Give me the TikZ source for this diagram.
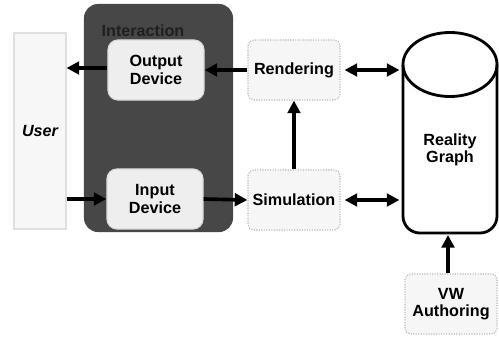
\documentclass[tikz,border=0pt]{standalone}
\usepackage{fontspec}
\setmainfont{Liberation Sans}
\usepackage{tikz}
\usetikzlibrary{positioning, arrows.meta, calc}
\tikzset{every picture/.append style={thick}}

\begin{document}
\begin{tikzpicture}[x=0.025cm, y=-0.025cm,
    font=\fontsize{11.5}{12.5}\selectfont\bfseries,
    panel/.style={rectangle, rounded corners=4pt, fill=gray!7, draw=gray!55, densely dotted,
      minimum width=2.3cm, minimum height=1.5cm, align=center},
    device/.style={rectangle, rounded corners=7pt, fill=gray!13, draw=gray!30,
      minimum width=2.4cm, minimum height=1.5cm, align=center},
    flow/.style={line width=2.6pt, -{Triangle[length=9pt,width=9pt]}},
    both/.style={line width=2.6pt, {Triangle[length=9pt,width=9pt]}-{Triangle[length=9pt,width=9pt]}}]
    \useasboundingbox (0,0) rectangle (499,336);

    % user and interaction hardware
    \node[rectangle, fill=gray!6, draw=gray!25, minimum width=1.3cm, minimum height=4.9cm] (user) at (40,131) {\itshape User};
    \node[rectangle, rounded corners=10pt, fill=black!72, minimum width=3.725cm, minimum height=5.7cm] (inter) at (158.5,118) {};
    \node[text=black!88] (intertitle) at (143,31) {Interaction};
    \node[device] (output) at (156,70) {Output\\Device};
    \node[device] (input) at (155,199) {Input\\Device};

    % application side
    \node[panel] (render) at (294,70) {Rendering};
    \node[panel] (sim) at (294,200) {Simulation};
    \node[panel] (author) at (451,304) {VW\\Authoring};

    % reality graph cylinder
    \node[minimum width=2.35cm, minimum height=5cm] (graph) at (450,133) {};
    \node[align=center] (graphlabel) at (450,150) {Reality\\Graph};
    \draw[line width=2pt, rounded corners=12pt] (403,64.5) -- (403,233) -- (497,233) -- (497,64.5);
    \draw[line width=2pt] (450,64.5) ellipse [x radius=1.175cm, y radius=0.8cm];
    \coordinate (graphbase) at (448,235);

    % connections
    \draw[flow] (output.west |- 0,68) -- (user.east |- 0,68);
    \draw[flow] (user.east |- input) -- (input.west);
    \draw[flow] (render.west) -- (output.east |- render.west);
    \draw[flow] (input.east) -- (sim.west);
    \draw[flow] (sim.north) -- (render.south);
    \draw[both] ($(render.east)+(4,0)$) -- ($(render.east -| graph.west)+(-3,0)$);
    \draw[both] ($(sim.east)+(4,0)$) -- ($(sim.east -| graph.west)+(-3,0)$);
    \draw[flow] (author.north -| graphbase) -- (graphbase);
\end{tikzpicture}
\end{document}
